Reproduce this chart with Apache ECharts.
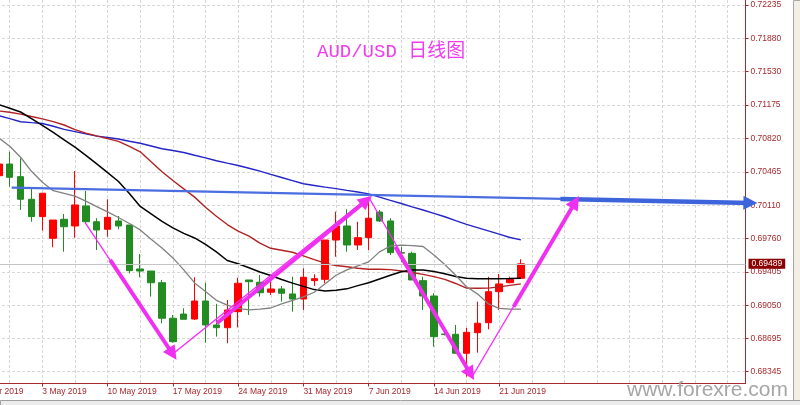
<!DOCTYPE html>
<html><head><meta charset="utf-8">
<script src="https://cdn.jsdelivr.net/npm/echarts@6/dist/echarts.min.js"></script>
<style>html,body{margin:0;padding:0;background:#fff;overflow:hidden}#c{width:800px;height:405px}</style>
</head><body><div id="c"></div>
<script>
// bar index 0 = 26 Apr 2019 (6 bars per week, incl. Sunday)
const dates = ['26 Apr 2019','28 Apr 2019','29 Apr 2019','30 Apr 2019','1 May 2019','2 May 2019','3 May 2019',
 '5 May 2019','6 May 2019','7 May 2019','8 May 2019','9 May 2019','10 May 2019',
 '12 May 2019','13 May 2019','14 May 2019','15 May 2019','16 May 2019','17 May 2019',
 '19 May 2019','20 May 2019','21 May 2019','22 May 2019','23 May 2019','24 May 2019',
 '26 May 2019','27 May 2019','28 May 2019','29 May 2019','30 May 2019','31 May 2019',
 '2 Jun 2019','3 Jun 2019','4 Jun 2019','5 Jun 2019','6 Jun 2019','7 Jun 2019',
 '9 Jun 2019','10 Jun 2019','11 Jun 2019','12 Jun 2019','13 Jun 2019','14 Jun 2019',
 '16 Jun 2019','17 Jun 2019','18 Jun 2019','19 Jun 2019','20 Jun 2019','21 Jun 2019',
 '23 Jun 2019','24 Jun 2019'];
const xTickIndex = [0,6,12,18,24,30,36,42,48];
const yTicks = [0.72235,0.71880,0.71530,0.71175,0.70820,0.70465,0.70110,0.69760,0.69405,0.69050,0.68695,0.68345];
const yMin = 0.68220, yMax = 0.72288;
const xMin = 0, xMax = 70.65;

const candleStart = 2;
const openP  = [0.70424,0.70548,0.70414,0.70174,0.69990,0.69760,0.69962,0.69891,0.70103,0.69936,0.69856,0.69944,0.69901,0.69435,0.69413,0.69289,0.68912,0.68957,0.68904,0.69095,0.68841,0.68812,0.68982,0.69318,0.69294,0.69188,0.69223,0.69170,0.69116,0.69311,0.69325,0.69742,0.69891,0.69689,0.69767,0.70039,0.69944,0.69608,0.69601,0.69311,0.69148,0.68745,0.68742,0.68541,0.68759,0.68865,0.69194,0.69289,0.69336];
const closeP = [0.70548,0.70407,0.70174,0.69990,0.70238,0.69954,0.69883,0.70114,0.69936,0.69848,0.69983,0.69891,0.69417,0.69413,0.69289,0.68912,0.68664,0.68901,0.69095,0.68841,0.68812,0.69000,0.69283,0.69300,0.69183,0.69223,0.69177,0.69116,0.69347,0.69332,0.69742,0.69891,0.69689,0.69767,0.69973,0.69944,0.69608,0.69603,0.69318,0.69148,0.68717,0.68740,0.68541,0.68763,0.68859,0.69194,0.69276,0.69325,0.69489];
const lowP   = [0.70395,0.70308,0.70061,0.69936,0.69841,0.69665,0.69618,0.69767,0.69920,0.69636,0.69777,0.69856,0.69389,0.69347,0.69141,0.68859,0.68653,0.68901,0.68894,0.68653,0.68717,0.68647,0.68816,0.68947,0.69141,0.69159,0.69088,0.68982,0.69000,0.69254,0.69283,0.69565,0.69618,0.69636,0.69636,0.69933,0.69583,0.69509,0.69318,0.69000,0.68611,0.68730,0.68541,0.68292,0.68547,0.68795,0.69000,0.69283,0.69336];
const highP  = [0.70580,0.70679,0.70609,0.70291,0.70238,0.69954,0.70018,0.70474,0.70262,0.69973,0.70174,0.69997,0.69901,0.69594,0.69413,0.69318,0.68947,0.69018,0.69347,0.69289,0.69065,0.69106,0.69342,0.69318,0.69371,0.69300,0.69254,0.69353,0.69442,0.69379,0.69742,0.70043,0.70068,0.69936,0.70190,0.70061,0.69973,0.69669,0.69618,0.69353,0.69177,0.68755,0.68841,0.68810,0.69088,0.69353,0.69382,0.69353,0.69538];

// moving averages, one value per bar index 0..50
const maGrey  = [0.71068,0.70962,0.70824,0.70736,0.70620,0.70471,0.70355,0.70265,0.70236,0.70207,0.70154,0.70097,0.70040,0.69981,0.69917,0.69849,0.69751,0.69658,0.69552,0.69425,0.69287,0.69196,0.69102,0.69051,0.69016,0.69002,0.69009,0.69021,0.69065,0.69101,0.69139,0.69188,0.69277,0.69368,0.69425,0.69467,0.69510,0.69616,0.69679,0.69688,0.69682,0.69673,0.69584,0.69483,0.69368,0.69247,0.69171,0.69065,0.69017,0.69008,0.69008];
const maBlack = [0.71259,0.71222,0.71178,0.71140,0.71100,0.71030,0.70959,0.70884,0.70805,0.70728,0.70640,0.70549,0.70456,0.70363,0.70236,0.70098,0.70019,0.69939,0.69870,0.69812,0.69764,0.69695,0.69616,0.69525,0.69490,0.69448,0.69402,0.69365,0.69324,0.69285,0.69250,0.69216,0.69200,0.69209,0.69224,0.69258,0.69289,0.69329,0.69368,0.69405,0.69425,0.69425,0.69407,0.69384,0.69355,0.69337,0.69330,0.69330,0.69332,0.69334,0.69337];
const maRed   = [0.71147,0.71129,0.71111,0.71097,0.71078,0.71052,0.71027,0.70998,0.70962,0.70913,0.70876,0.70846,0.70818,0.70789,0.70736,0.70678,0.70572,0.70467,0.70373,0.70285,0.70197,0.70090,0.69994,0.69906,0.69837,0.69783,0.69709,0.69654,0.69634,0.69612,0.69573,0.69534,0.69496,0.69471,0.69458,0.69443,0.69432,0.69432,0.69428,0.69414,0.69398,0.69378,0.69353,0.69325,0.69281,0.69232,0.69231,0.69232,0.69245,0.69261,0.69277];
const maBlue  = [0.71100,0.71079,0.71061,0.71029,0.70997,0.70987,0.70978,0.70949,0.70916,0.70892,0.70868,0.70844,0.70829,0.70814,0.70790,0.70768,0.70739,0.70710,0.70691,0.70670,0.70641,0.70613,0.70583,0.70557,0.70532,0.70503,0.70472,0.70438,0.70405,0.70372,0.70339,0.70321,0.70303,0.70287,0.70269,0.70252,0.70232,0.70197,0.70162,0.70129,0.70094,0.70060,0.70025,0.69989,0.69948,0.69908,0.69874,0.69839,0.69804,0.69769,0.69743];

// hand-drawn annotations: [bar index, price]
const arrowThin  = [[[9.93,0.69926],[17.98,0.68533]],[[17.98,0.68533],[36.0,0.70198]],[[36.0,0.70198],[45.5,0.68289]],[[45.5,0.68289],[55.0,0.70145]]];
const arrowThick = [[[12.23,0.69531],[17.98,0.68533]],[[22.04,0.68859],[35.8,0.70161]],[[38.45,0.69671],[45.37,0.68321]],[[49.33,0.69035],[55.0,0.70145]]];
const trendThin  = [[3.18,0.70297],[70.65,0.70139]];
const trendThick = [[53.63,0.70176],[71.1,0.70135]];

const axisRed = '#a8282d';
const lbl = {fontFamily:'"Liberation Sans", Arial, sans-serif', fontSize:8.5, color:axisRed};
const candleData = openP.map((o,k)=>[candleStart+k, o, closeP[k], lowP[k], highP[k]]);
const pts = arr => arr.map((v,i)=>[i,v]);
const lastPrice = closeP[closeP.length-1];

const chart = echarts.init(document.getElementById('c'), null, {renderer:'canvas'});
chart.setOption({
  animation:false,
  backgroundColor:'#ffffff',
  title:{text:'AUD/USD 日线图', left:317, top:42, padding:0,
    textStyle:{color:'#f03cf0', fontSize:19, fontWeight:'normal', fontFamily:'"Liberation Mono","Noto Sans CJK SC",monospace'}},
  grid:{left:-22.9, right:54.5, top:0, bottom:21.5, containLabel:false, outerBoundsMode:'none'},
  xAxis:[
    {type:'value', min:xMin, max:xMax, interval:3, position:'bottom',
     axisLine:{show:false}, axisTick:{show:false}, axisLabel:{show:false},
     splitLine:{show:true, lineStyle:{color:'#d6d6d6', type:[3,2], width:1}}},
    {type:'value', min:xMin, max:xMax, position:'bottom',
     axisLine:{show:true, onZero:false, lineStyle:{color:axisRed, width:1}},
     axisTick:{show:true, length:3, customValues:xTickIndex, lineStyle:{color:axisRed}},
     axisLabel:Object.assign({show:true, customValues:xTickIndex, align:'left', margin:4, hideOverlap:false,
        formatter:v=>dates[Math.round(v)]||''}, lbl),
     splitLine:{show:false}}
  ],
  yAxis:{type:'value', position:'right', min:yMin, max:yMax, scale:true,
    axisLine:{show:true, onZero:false, lineStyle:{color:axisRed, width:1}},
    axisTick:{show:true, length:3, customValues:yTicks, lineStyle:{color:axisRed}},
    axisLabel:Object.assign({customValues:yTicks, margin:5, formatter:v=>v.toFixed(5)}, lbl),
    splitLine:{show:true, lineStyle:{color:'#d6d6d6', type:[3,2], width:1}}},
  series:[
    {type:'candlestick', xAxisIndex:0, yAxisIndex:0, data:candleData, barWidth:7, z:2,
     encode:{x:0, y:[1,2,3,4]},
     itemStyle:{color:'#ff0000', color0:'#228b22', borderColor:'#ff0000', borderColor0:'#228b22', borderWidth:1}},
    {type:'line', xAxisIndex:0, data:pts(maBlue), symbol:'none', z:3, lineStyle:{color:'#2424c8', width:1.4}},
    {type:'line', xAxisIndex:0, data:pts(maRed), symbol:'none', z:3, lineStyle:{color:'#b22222', width:1.4}},
    {type:'line', xAxisIndex:0, data:pts(maBlack), symbol:'none', z:3, lineStyle:{color:'#000000', width:1.5}},
    {type:'line', xAxisIndex:0, data:pts(maGrey), symbol:'none', z:3, lineStyle:{color:'#808080', width:1.3},
     markLine:{silent:true, symbol:'none', animation:false, precision:5,
       lineStyle:{color:'#c4c4c4', type:'solid', width:1},
       label:{position:'end', distance:3, formatter:()=>lastPrice.toFixed(5), color:'#ffffff', backgroundColor:'#8b0000',
         padding:[1,3,0,3], fontSize:8.5, fontFamily:'"Liberation Sans", Arial, sans-serif'},
       data:[{yAxis:lastPrice}]}},
    {type:'lines', coordinateSystem:'cartesian2d', xAxisIndex:0, yAxisIndex:0, clip:false, z:5, symbol:'none',
     lineStyle:{color:'#4a6ee0', width:2.2, opacity:1}, data:[{coords:trendThin}]},
    {type:'lines', coordinateSystem:'cartesian2d', xAxisIndex:0, yAxisIndex:0, clip:false, z:5,
     symbol:['none','triangle'], symbolSize:[11,14],
     lineStyle:{color:'#3e64dc', width:4.5, opacity:1}, data:[{coords:trendThick}]},
    {type:'lines', coordinateSystem:'cartesian2d', xAxisIndex:0, yAxisIndex:0, clip:false, z:6, symbol:'none',
     lineStyle:{color:'#ff22ff', width:1.3, opacity:1}, data:arrowThin.map(c=>({coords:c}))},
    {type:'lines', coordinateSystem:'cartesian2d', xAxisIndex:0, yAxisIndex:0, clip:false, z:6,
     symbol:['none','triangle'], symbolSize:[11,14],
     lineStyle:{color:'#f030f0', width:4, opacity:1}, data:arrowThick.map(c=>({coords:c}))}
  ],
  graphic:[
    {type:'rect', left:793, top:0, shape:{width:7, height:405}, style:{fill:'#f2eee6', stroke:'#a8a8a8', lineWidth:1}, z:50},
    {type:'rect', left:0, top:400, shape:{width:800, height:5}, style:{fill:'#ececec', stroke:'#a0a0a0', lineWidth:1}, z:50},
    {type:'text', right:12, bottom:4, z:100, style:{text:'www.forexre.com', fill:'#a6a6a6', font:'21px "Liberation Sans", Arial, sans-serif'}}
  ]
});
</script></body></html>
